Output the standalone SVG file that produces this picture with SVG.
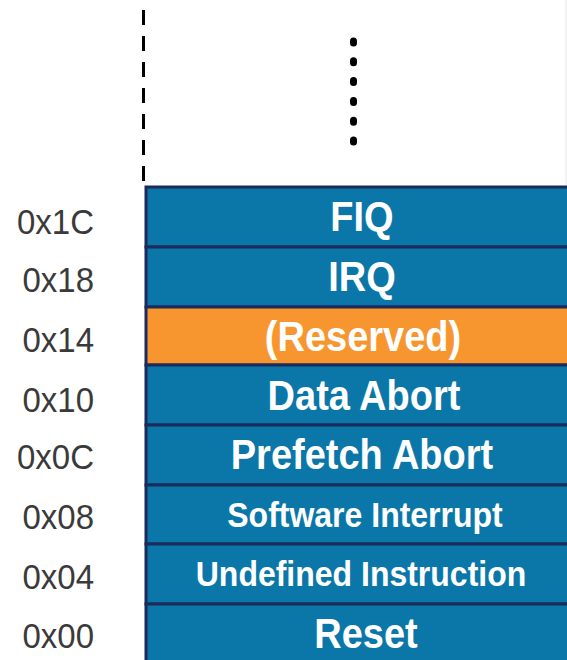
<svg xmlns="http://www.w3.org/2000/svg" width="567" height="660" viewBox="0 0 567 660">
<style>
.row{stroke:#1c2a5c;stroke-width:3}
.blue{fill:#0b77a8}
.orange{fill:#f7962f}
.lbl{font-family:"Liberation Sans",Arial,sans-serif;font-weight:bold;fill:#ffffff;text-anchor:middle}
.big{font-size:38px}
.small{font-size:32px}
.addr{font-family:"Liberation Sans",Arial,sans-serif;font-size:33px;fill:#3a3a3a;text-anchor:end}
</style>
<rect width="567" height="660" fill="#ffffff"/>
<g id="connectors">
<line x1="143.5" y1="10" x2="143.5" y2="182" stroke="#000" stroke-width="3" stroke-dasharray="15 11"/>
<line x1="353.5" y1="41" x2="353.5" y2="142" stroke="#000" stroke-width="7" stroke-linecap="round" stroke-dasharray="2 17.8"/>
<line x1="566" y1="0" x2="566" y2="185" stroke="#e4e4e4" stroke-width="1"/>
</g>
<g id="fiq"><rect class="row blue" x="146" y="187" width="440" height="60"/><text class="lbl big" transform="translate(362,231) scale(1,1.1)">FIQ</text><text class="addr" transform="translate(94,234) scale(1,1.08)">0x1C</text></g>
<g id="irq"><rect class="row blue" x="146" y="247" width="440" height="60"/><text class="lbl big" transform="translate(362,291) scale(1,1.1)">IRQ</text><text class="addr" transform="translate(94,292) scale(1,1.08)">0x18</text></g>
<g id="reserved"><rect class="row orange" x="146" y="307" width="440" height="58"/><text class="lbl big" transform="translate(363,351) scale(1,1.1)">(Reserved)</text><text class="addr" transform="translate(94,352) scale(1,1.08)">0x14</text></g>
<g id="data-abort"><rect class="row blue" x="146" y="365" width="440" height="60"/><text class="lbl big" transform="translate(364,410) scale(1,1.1)">Data Abort</text><text class="addr" transform="translate(94,412) scale(1,1.08)">0x10</text></g>
<g id="prefetch-abort"><rect class="row blue" x="146" y="425" width="440" height="60"/><text class="lbl big" transform="translate(362,469) scale(1,1.1)">Prefetch Abort</text><text class="addr" transform="translate(94,469) scale(1,1.08)">0x0C</text></g>
<g id="software-interrupt"><rect class="row blue" x="146" y="485" width="440" height="59"/><text class="lbl small" transform="translate(365,527) scale(1,1.1)">Software Interrupt</text><text class="addr" transform="translate(94,529) scale(1,1.08)">0x08</text></g>
<g id="undefined-instruction"><rect class="row blue" x="146" y="544" width="440" height="60"/><text class="lbl small" transform="translate(361,586) scale(1,1.1)">Undefined Instruction</text><text class="addr" transform="translate(94,589) scale(1,1.08)">0x04</text></g>
<g id="reset"><rect class="row blue" x="146" y="604" width="440" height="70"/><text class="lbl big" transform="translate(366,648) scale(1,1.1)">Reset</text><text class="addr" transform="translate(94,648) scale(1,1.08)">0x00</text></g>
</svg>
